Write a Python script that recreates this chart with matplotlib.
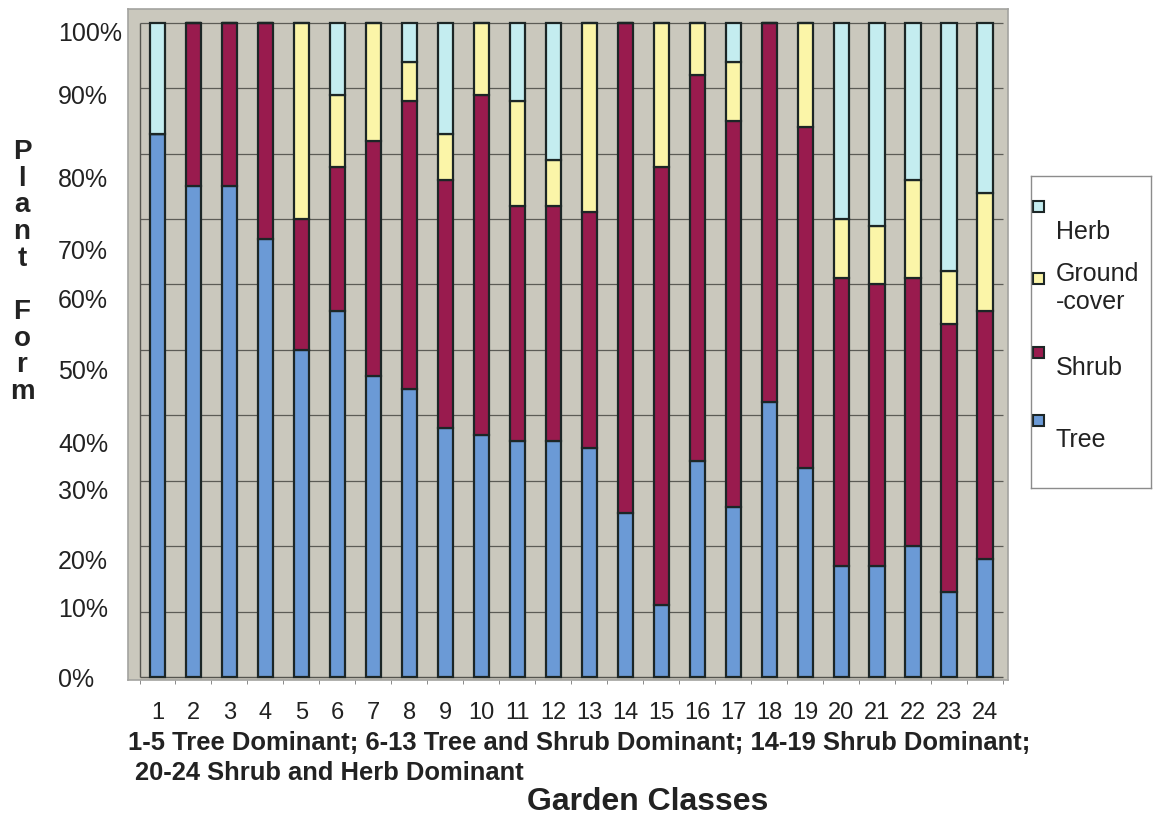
import numpy as np
import matplotlib
matplotlib.use("Agg")
import matplotlib.pyplot as plt
import matplotlib.transforms as mtransforms
from matplotlib.patches import Rectangle

plt.rcParams['font.family'] = ['Liberation Sans', 'DejaVu Sans']

# доли форм растений (%) по 24 классам садов
classes = list(range(1, 25))
tree = [83, 75, 75, 67, 50, 56, 46, 44, 38, 37, 36, 36, 35, 25, 11, 33, 26, 42, 32, 17, 17, 20, 13, 18]
shrub = [0, 25, 25, 33, 20, 22, 36, 44, 38, 52, 36, 36, 36, 75, 67, 59, 59, 58, 52, 44, 43, 41, 41, 38]
groundcover = [0, 0, 0, 0, 30, 11, 18, 6, 7, 11, 16, 7, 29, 0, 22, 8, 9, 0, 16, 9, 9, 15, 8, 18]
herb = [17, 0, 0, 0, 0, 11, 0, 6, 17, 0, 12, 21, 0, 0, 0, 0, 6, 0, 0, 30, 31, 24, 38, 26]

series_names = ['Tree', 'Shrub', 'Ground-cover', 'Herb']
series_colors = ['#6b9ad6', '#991b4e', '#fbf5a8', '#c4edf0']

y_ticks = [0, 10, 20, 30, 40, 50, 60, 70, 80, 90, 100]
y_tick_labels = ['0%', '10%', '20%', '30%', '40%', '50%', '60%', '70%', '80%', '90%', '100%']
# сдвиг подписей оси Y вниз (в пикселях)
y_label_shift = [3, -2, 16, 11, 30, 22, 17, 33, 26, 9, 11]

W, H = 1158, 817
fig = plt.figure(figsize=(W / 100, H / 100), dpi=100)
ax = fig.add_axes([128 / W, 1 - 680 / H, 880 / W, 671 / H])
ax.set_facecolor('#cac8bd')

x = np.array(classes)
bottom = np.zeros(len(classes))
for vals, name, col in zip([tree, shrub, groundcover, herb], series_names, series_colors):
    vals = np.array(vals, dtype=float)
    ax.bar(x, vals, bottom=bottom, width=0.42, color=col, edgecolor='#1c2626',
           linewidth=1.6, zorder=3, label=name)
    bottom += vals

ax.set_xlim(0.18, 24.64)
ax.set_ylim(-0.46, 102.1)

# сетка и оси внутри области построения
ax.hlines(y_ticks[1:], 0.5, 24.5, color='#5c5c56', linewidth=0.9, zorder=1)
ax.vlines(0.5, 0, 100, color='#55554f', linewidth=1.0, zorder=2)
ax.hlines(0, 0.5, 24.5, color='#55554f', linewidth=1.0, zorder=2)

for s in ax.spines.values():
    s.set_color('#a3a3a0')
    s.set_linewidth(1.2)

ax.set_yticks([])
ax.set_xticks(x)
ax.set_xticklabels([str(c) for c in classes], fontsize=17, color='#222222')
ax.set_xticks(np.arange(0.5, 25, 1), minor=True)
ax.tick_params(axis='x', which='major', length=0, pad=16)
ax.tick_params(axis='x', which='minor', length=3, color='#777777')

# подписи процентов слева
blend = mtransforms.blended_transform_factory(fig.transFigure, ax.transData)
for v, lab, sh in zip(y_ticks, y_tick_labels, y_label_shift):
    tr = blend + mtransforms.ScaledTranslation(0, -sh / 100, fig.dpi_scale_trans)
    ax.text(58 / W, v, lab, transform=tr, ha='left', va='center',
            fontsize=18, color='#222222', clip_on=False)

fig.text(22 / W, 1 - 272 / H, 'P\nl\na\nn\nt\n\nF\no\nr\nm', ha='center', va='center',
         fontsize=20, fontweight='bold', linespacing=1.03, color='#222222')

fig.text(128 / W, 1 - 750 / H,
         '1-5 Tree Dominant; 6-13 Tree and Shrub Dominant; 14-19 Shrub Dominant;',
         ha='left', va='baseline', fontsize=18.4, fontweight='bold', color='#222222')
fig.text(135 / W, 1 - 780 / H, '20-24 Shrub and Herb Dominant',
         ha='left', va='baseline', fontsize=18.4, fontweight='bold', color='#222222')
fig.text(648 / W, 1 - 810 / H, 'Garden Classes', ha='center', va='baseline',
         fontsize=23, fontweight='bold', color='#222222')

# легенда справа
lax = fig.add_axes([1031 / W, 1 - 488 / H, 120 / W, 312 / H])
lax.set_xlim(0, 120)
lax.set_ylim(312, 0)
lax.set_xticks([])
lax.set_yticks([])
for s in lax.spines.values():
    s.set_color('#8c8c8c')
    s.set_linewidth(1.0)

leg_labels = ['Herb', 'Ground\n-cover', 'Shrub', 'Tree']
leg_colors = series_colors[::-1]
marker_y = [30, 102, 176, 244]
text_y = [56, 112, 192, 264]
for lab, col, my, ty in zip(leg_labels, leg_colors, marker_y, text_y):
    lax.add_patch(Rectangle((1.5, my - 5.5), 11, 11, facecolor=col,
                            edgecolor='#1c2626', linewidth=1.5))
    lax.text(25, ty, lab, ha='left', va='center', fontsize=18,
             color='#222222', linespacing=1.25)

fig.savefig('out.png', dpi=100, facecolor='white')
